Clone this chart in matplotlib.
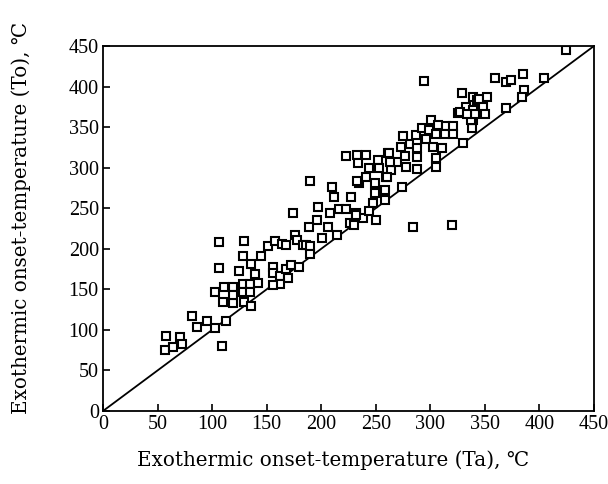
import numpy as np
import matplotlib
matplotlib.use('Agg')
import matplotlib.pyplot as plt

# Ta (x) and To (y)
ta = [57, 58, 64, 71, 72, 82, 86, 95, 103, 109, 113,
      110, 119, 129, 136,
      103, 111, 119, 128, 135, 119, 128, 135,
      106, 125, 139, 142,
      106, 129, 128, 136,
      145, 151, 158, 164, 168, 156, 156, 162, 168, 172, 180, 170, 162, 156,
      174, 176, 178, 183, 186, 190, 190, 196, 189, 190, 197,
      206, 201, 214, 208, 216, 223, 232, 226, 230, 210, 212, 227, 223, 233, 241,
      234, 235, 241, 233, 238, 232,
      244, 252, 253, 261, 259, 249, 249, 258, 258, 247, 244, 250, 264, 269, 263,
      262, 277, 288, 273, 281, 288, 288, 275, 287, 296, 292, 299, 278, 288, 274,
      260, 284, 294,
      301, 307, 314, 321, 305, 313, 321, 302, 311, 305, 305, 325, 329, 330, 338,
      320, 333, 327, 339, 339, 339, 337, 341, 334,
      343, 345, 352, 348, 350, 359, 369, 374, 385, 404, 386, 384, 369, 424]
to = [75, 93, 79, 91, 82, 117, 104, 111, 102, 80, 111,
      135, 133, 134, 129,
      147, 153, 153, 157, 157, 143, 147, 147,
      176, 173, 169, 158,
      208, 209, 191, 181,
      191, 203, 209, 206, 205, 177, 170, 166, 175, 180, 178, 164, 157, 155,
      244, 217, 211, 205, 205, 203, 194, 236, 227, 283, 252,
      227, 213, 217, 244, 249, 249, 244, 232, 229, 276, 264, 264, 314, 315, 315,
      306, 281, 289, 283, 238, 242,
      300, 309, 300, 318, 289, 281, 269, 272, 260, 256, 246, 235, 297, 307, 307,
      318, 314, 313, 325, 329, 332, 324, 339, 340, 335, 349, 347, 301, 298, 276,
      288, 227, 407,
      359, 352, 351, 351, 342, 341, 341, 325, 324, 312, 301, 367, 392, 331, 349,
      229, 375, 368, 387, 371, 359, 359, 366, 366,
      383, 385, 387, 375, 366, 411, 405, 408, 416, 411, 396, 387, 373, 445]

ticks = [0, 50, 100, 150, 200, 250, 300, 350, 400, 450]

plt.rcParams['font.family'] = ['Liberation Serif', 'DejaVu Serif']

fig = plt.figure(figsize=(6.08, 4.84), dpi=100)
ax = fig.add_axes([0.1694, 0.1508, 0.8076, 0.7542])

ax.plot([0, 450], [0, 450], color='black', lw=1.3, zorder=2)
ax.plot(ta, to, 's', ms=6.3, mew=1.5, mec='black', mfc='white', zorder=3)

ax.set_xlim(0, 450)
ax.set_ylim(0, 450)
ax.set_xticks(ticks)
ax.set_yticks(ticks)
ax.tick_params(direction='in', length=5, width=1.2, labelsize=14.5, pad=3)
for s in ax.spines.values():
    s.set_linewidth(1.3)

lab_font = ['DejaVu Serif']
fig.text(333 / 608, 1 - 460 / 484, 'Exothermic onset-temperature (Ta), \u2103',
         family=lab_font, fontsize=14.3, ha='center', va='center')
fig.text(21 / 608, 1 - 218 / 484, 'Exothermic onset-temperature (To), \u2103',
         family=lab_font, fontsize=14.3, ha='center', va='center', rotation=90)

fig.savefig('out.png', dpi=100)
